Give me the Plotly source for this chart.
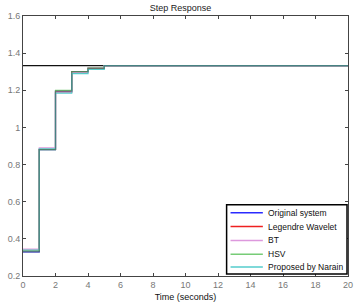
import plotly.graph_objects as go

t = list(range(0, 21))
original = [0.330, 0.880, 1.195, 1.300, 1.318] + [1.333] * 16
legendre = [0.338, 0.882, 1.190, 1.300, 1.318] + [1.333] * 16
bt = [0.345, 0.890, 1.190, 1.295, 1.315] + [1.333] * 16
hsv = [0.335, 0.880, 1.200, 1.300, 1.320] + [1.333] * 16
narain = [0.340, 0.885, 1.185, 1.290, 1.312] + [1.333] * 16
steady = 1.333

names = ["Original system", "Legendre Wavelet", "BT", "HSV", "Proposed by Narain"]
colors = ["#2b2bff", "#ee2020", "#dd99dd", "#77cc77", "#55cccc"]
values = [original, legendre, bt, hsv, narain]

fig = go.Figure()
fig.add_trace(go.Scatter(x=[0, 20], y=[steady, steady], mode="lines",
                         line=dict(color="#111111", width=1.2), showlegend=False,
                         hoverinfo="skip"))
for name, vals, col in zip(names, values, colors):
    fig.add_trace(go.Scatter(x=t, y=vals, mode="lines", name=name, showlegend=False,
                             line=dict(color=col, width=1.2, shape="hv")))
fig.add_trace(go.Scatter(x=t, y=original, mode="lines", showlegend=False,
                         line=dict(color="rgba(60,70,70,0.55)", width=1.2, shape="hv"),
                         hoverinfo="skip"))

# manual compact legend (paper coordinates)
fig.add_shape(type="rect", xref="paper", yref="paper", x0=0.6265, x1=0.997, y0=0.0076, y1=0.274,
              line=dict(color="#000000", width=1.5), fillcolor="white", layer="above")
rows = [0.2433, 0.1901, 0.1369, 0.0837, 0.0342]
for name, col, yp in zip(names, colors, rows):
    fig.add_shape(type="line", xref="paper", yref="paper", x0=0.6386, x1=0.7380, y0=yp, y1=yp,
                  line=dict(color=col, width=1.5), layer="above")
    fig.add_annotation(xref="paper", yref="paper", x=0.7470, y=yp, text=name, showarrow=False,
                       xanchor="left", yanchor="middle",
                       font=dict(family="Liberation Sans", size=8.5, color="#111111"))

axis_common = dict(showgrid=False, zeroline=False, showline=True, linecolor="#444444",
                   linewidth=1, mirror="ticks", ticks="inside", ticklen=3,
                   tickcolor="#444444", tickfont=dict(family="Liberation Sans", size=9, color="#777777"))

fig.update_layout(
    width=361, height=308,
    margin=dict(l=21, r=8, t=16, b=29),
    paper_bgcolor="white", plot_bgcolor="white",
    title=dict(text="Step Response", x=0.5, xanchor="center", y=0.985, yanchor="top",
               font=dict(family="Liberation Sans", size=9, color="#222222")),
    xaxis=dict(range=[0, 20], tickvals=list(range(0, 21, 2)),
               title=dict(text="Time (seconds)", standoff=4,
                          font=dict(family="Liberation Sans", size=9, color="#111111")),
               **axis_common),
    yaxis=dict(range=[0.2, 1.6], tickvals=[0.2, 0.4, 0.6, 0.8, 1.0, 1.2, 1.4, 1.6],
               ticktext=["0.2", "0.4", "0.6", "0.8", "1", "1.2", "1.4", "1.6"],
               **axis_common),
    showlegend=False,
)

fig.write_html("out.html")
